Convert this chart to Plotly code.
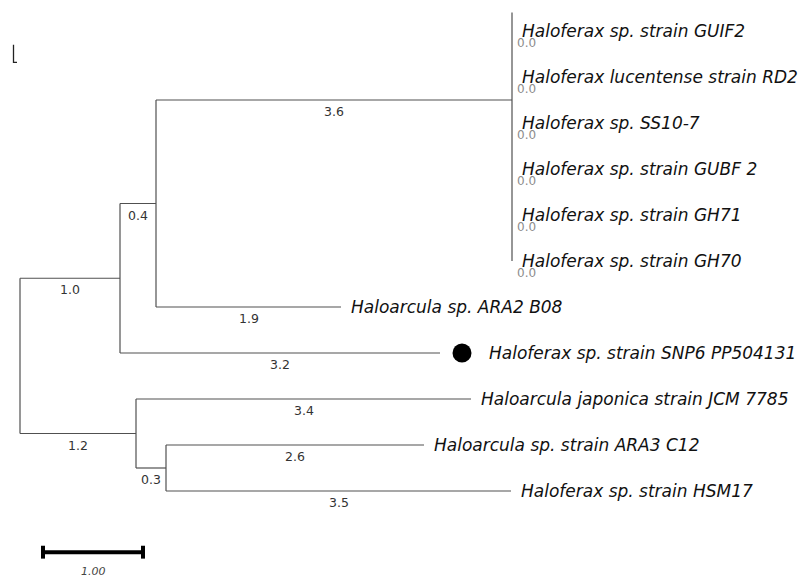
import plotly.graph_objects as go

# ---------------- data ----------------
NODE_IDS = ["root", "A", "B", "P", "C", "D",
            "GUIF2", "RD2", "SS10", "GUBF2", "GH71", "GH70",
            "ARA2", "SNP6", "JCM", "ARA3", "HSM17"]
PARENTS = [None, "root", "A", "B", "root", "C",
           "P", "P", "P", "P", "P", "P",
           "B", "A", "C", "D", "D"]
BRANCH_LENGTHS = [0.0, 1.0, 0.36, 3.56, 1.16, 0.3,
                  0.0, 0.0, 0.0, 0.0, 0.0, 0.0,
                  1.85, 3.2, 3.35, 2.58, 3.45]

LEAF_IDS = ["GUIF2", "RD2", "SS10", "GUBF2", "GH71", "GH70",
            "ARA2", "SNP6", "JCM", "ARA3", "HSM17"]
LEAF_NAMES = ["Haloferax sp. strain GUIF2",
              "Haloferax lucentense strain RD2",
              "Haloferax sp. SS10-7",
              "Haloferax sp. strain GUBF 2",
              "Haloferax sp. strain GH71",
              "Haloferax sp. strain GH70",
              "Haloarcula sp. ARA2 B08",
              "Haloferax sp. strain SNP6 PP504131",
              "Haloarcula japonica strain JCM 7785",
              "Haloarcula sp. strain ARA3 C12",
              "Haloferax sp. strain HSM17"]
MARKED_LEAF = "SNP6"
NODE_ROW_OVERRIDE = {"P": 1.5}
VERT_TOP_OVERRIDE = {"P": -0.4}
SCALE_BAR_LENGTH = 1.0
SCALE_BAR_LABEL = "1.00"

# ---------------- layout of tree ----------------
parent_of = dict(zip(NODE_IDS, PARENTS))
length_of = dict(zip(NODE_IDS, BRANCH_LENGTHS))
children = {n: [] for n in NODE_IDS}
for n, p in zip(NODE_IDS, PARENTS):
    if p is not None:
        children[p].append(n)

xpos = {}
def set_x(n, x0):
    xpos[n] = x0 + length_of[n]
    for c in children[n]:
        set_x(c, xpos[n])
set_x("root", 0.0)

row = {leaf: i for i, leaf in enumerate(LEAF_IDS)}
def set_row(n):
    if n in row:
        return row[n]
    rs = [set_row(c) for c in children[n]]
    row[n] = NODE_ROW_OVERRIDE.get(n, (rs[0] + rs[-1]) / 2)
    return row[n]
set_row("root")

LINE_COLOR = "#505050"
xs, ys = [], []
for n in NODE_IDS:
    p = parent_of[n]
    if p is not None and length_of[n] > 0:
        xs += [xpos[p], xpos[n], None]
        ys += [row[n], row[n], None]
    if children[n]:
        crow = [row[c] for c in children[n]]
        top = VERT_TOP_OVERRIDE.get(n, min(crow))
        xs += [xpos[n], xpos[n], None]
        ys += [top, max(crow), None]

fig = go.Figure()
fig.add_trace(go.Scatter(x=xs, y=ys, mode="lines",
                         line=dict(color=LINE_COLOR, width=1.2),
                         hoverinfo="skip", showlegend=False))

# marker on highlighted leaf
fig.add_trace(go.Scatter(x=[xpos[MARKED_LEAF] + 0.22], y=[row[MARKED_LEAF]],
                         mode="markers",
                         marker=dict(color="black", size=19, symbol="circle"),
                         hoverinfo="skip", showlegend=False))

annotations = []
# branch length labels
for n in NODE_IDS:
    p = parent_of[n]
    if p is None:
        continue
    L = length_of[n]
    if L > 0:
        annotations.append(dict(x=(xpos[p] + xpos[n]) / 2, y=row[n] + 0.25,
                                text=f"{L:.1f}", showarrow=False,
                                xanchor="center", yanchor="middle",
                                font=dict(family="DejaVu Sans", size=12.5, color="#333333")))
    else:
        annotations.append(dict(x=xpos[n] + 0.03, y=row[n] + 0.27,
                                text=f"{L:.1f}", showarrow=False,
                                xanchor="left", yanchor="middle",
                                font=dict(family="DejaVu Sans", size=12, color="#8c8c8c")))

# leaf names
for leaf, name in zip(LEAF_IDS, LEAF_NAMES):
    off = 0.47 if leaf == MARKED_LEAF else 0.08
    annotations.append(dict(x=xpos[leaf] + off, y=row[leaf], text=name,
                            showarrow=False, xanchor="left", yanchor="middle",
                            font=dict(family="DejaVu Sans", size=17, color="#111111",
                                      style="italic")))

# scale bar
sb_x0, sb_row = 0.23, 11.33
shapes = [
    dict(type="line", x0=sb_x0, x1=sb_x0 + SCALE_BAR_LENGTH, y0=sb_row, y1=sb_row,
         line=dict(color="black", width=4)),
    dict(type="line", x0=sb_x0, x1=sb_x0, y0=sb_row - 0.14, y1=sb_row + 0.14,
         line=dict(color="black", width=4)),
    dict(type="line", x0=sb_x0 + SCALE_BAR_LENGTH, x1=sb_x0 + SCALE_BAR_LENGTH,
         y0=sb_row - 0.14, y1=sb_row + 0.14, line=dict(color="black", width=4)),
    # small corner mark at top left
    dict(type="path", path="M -0.065 0.3 L -0.065 0.68 L -0.03 0.68",
         line=dict(color="#222222", width=1.3)),
]
annotations.append(dict(x=sb_x0 + SCALE_BAR_LENGTH / 2, y=11.76, text=SCALE_BAR_LABEL,
                        showarrow=False, xanchor="center", yanchor="middle",
                        font=dict(family="DejaVu Sans", size=11, color="#444444",
                                  style="italic")))

fig.update_layout(
    width=809, height=580,
    margin=dict(l=0, r=0, t=0, b=0, pad=0),
    paper_bgcolor="white", plot_bgcolor="white",
    xaxis=dict(range=[-0.2, 7.89], visible=False, fixedrange=True),
    yaxis=dict(range=[11.9348, -0.6739], visible=False, fixedrange=True),
    annotations=annotations, shapes=shapes,
    showlegend=False,
)

fig.write_html("out.html", config={"displayModeBar": False})
